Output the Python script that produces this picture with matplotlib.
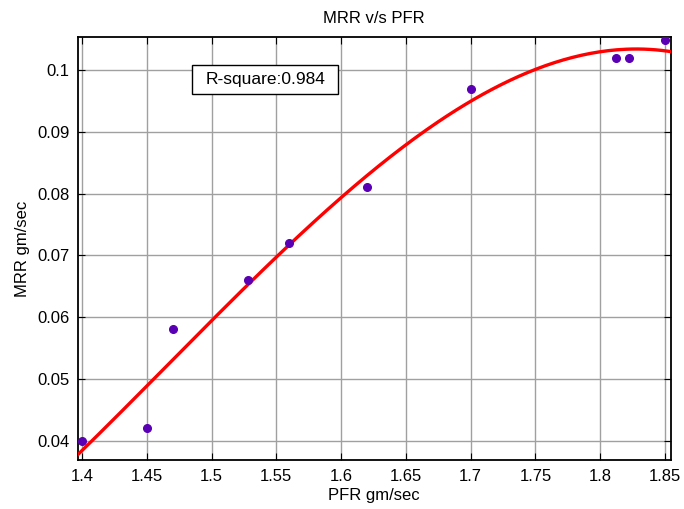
import numpy as np
import matplotlib
matplotlib.use('Agg')
import matplotlib.pyplot as plt
from matplotlib.patches import Rectangle

plt.rcParams['font.family'] = ['Liberation Sans', 'DejaVu Sans']

pfr = [1.40, 1.45, 1.47, 1.528, 1.56, 1.62, 1.70, 1.812, 1.822, 1.85]
mrr = [0.040, 0.042, 0.058, 0.066, 0.072, 0.081, 0.097, 0.102, 0.102, 0.1048]
xticks = [1.4, 1.45, 1.5, 1.55, 1.6, 1.65, 1.7, 1.75, 1.8, 1.85]
yticks = [0.04, 0.05, 0.06, 0.07, 0.08, 0.09, 0.1]

# cubic fit through the measured points
coef = np.polyfit(pfr, mrr, 3)
xfit = np.linspace(1.3967, 1.8544, 200)
yfit = np.polyval(coef, xfit)

fig = plt.figure(figsize=(6.84, 5.09), dpi=100)
ax = fig.add_axes([0.1136, 0.0957, 0.867, 0.8322])

ax.plot(xfit, yfit, color='red', lw=2.4, zorder=3)
ax.plot(pfr, mrr, 'o', color='#5a00b4', ms=5.5, mec='#5a00b4', zorder=4)

ax.set_xlim(1.3967, 1.8544)
ax.set_ylim(0.0368, 0.1054)
ax.set_xticks(xticks)
ax.set_xticklabels([f'{t:g}' for t in xticks])
ax.set_yticks(yticks)
ax.set_yticklabels([f'{t:g}' for t in yticks])
ax.grid(True, color='#a0a0a0', lw=1.0)
ax.tick_params(direction='in', top=True, right=True, length=5, labelsize=12, pad=6)
for s in ax.spines.values():
    s.set_linewidth(1.3)

ax.set_title('MRR v/s PFR', fontsize=12, pad=10)
ax.set_xlabel('PFR gm/sec', fontsize=12, labelpad=3)
ax.set_ylabel('MRR gm/sec', fontsize=12, labelpad=5)

# R-square box
ax.add_patch(Rectangle((0.1933, 0.8647), 0.2462, 0.0685, transform=ax.transAxes,
                       fc='white', ec='black', lw=1.0, zorder=5))
ax.text(0.3164, 0.899, 'R-square:0.984', transform=ax.transAxes, fontsize=12.5,
        ha='center', va='center', zorder=6)

fig.savefig('out.png', dpi=100)
